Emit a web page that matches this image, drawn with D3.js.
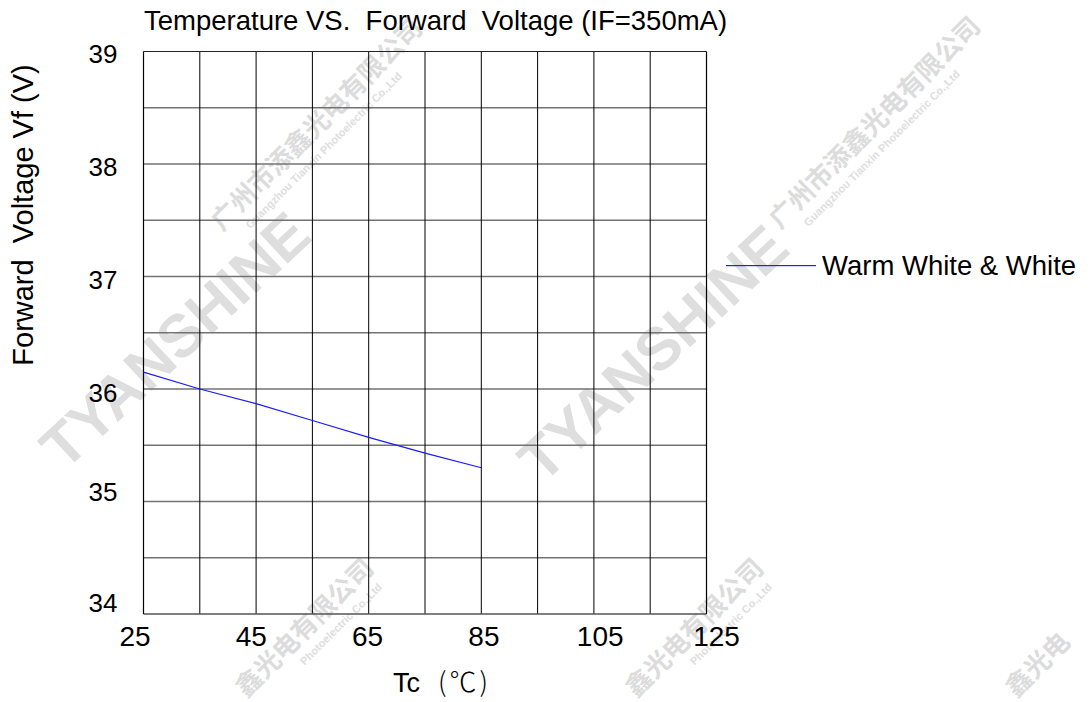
<!DOCTYPE html>
<html>
<head>
<meta charset="utf-8">
<script src="https://cdn.jsdelivr.net/npm/d3@7"></script>
<style>
  body { margin: 0; background: #fff; }
  text { font-family: "Liberation Sans", Arial, sans-serif; }
</style>
</head>
<body>
<div id="chart"></div>
<script>
// Tc (°C) vs forward voltage
const temps = [25, 35, 45, 55, 65, 75, 85];
const vf = [36.15, 36.0, 35.87, 35.72, 35.57, 35.43, 35.3];
const xTicks = [25, 45, 65, 85, 105, 125];
const yTicks = [34, 35, 36, 37, 38, 39];
const seriesName = "Warm White & White";

const width = 1090;
const height = 702;
const margin = { top: 51.5, right: 383.5, bottom: 88, left: 143.5 };

const svg = d3
  .select("#chart")
  .append("svg")
  .attr("width", width)
  .attr("height", height);

const x = d3.scaleLinear().domain([25, 125]).range([margin.left, width - margin.right]);
const y = d3.scaleLinear().domain([34, 39]).range([height - margin.bottom, margin.top]);

// tick labels in the original sit a little off the grid lines
const xLab = d3.scaleLinear().domain([25, 125]).range([x(25) - 8.5, x(125) + 10]);
const yLab = d3.scaleLinear().domain([34, 35, 36, 39]).range([y(34) - 11, y(35) - 10, y(36) + 3.5, y(39) + 2.5]);

// watermarks (faint, behind the chart)
const cn = "广州市添鑫光电有限公司";
const en = "Guangzhou Tianxin Photoelectric Co.,Ltd";
const wm = svg.append("g").attr("class", "watermark");
[[175, 340], [653, 353]].forEach(([cx, cy]) => {
  wm.append("text")
    .attr("transform", `translate(${cx},${cy}) rotate(-43)`)
    .attr("text-anchor", "middle")
    .attr("dy", "0.35em")
    .style("font-size", "60px")
    .style("font-weight", "bold")
    .attr("fill", "#dedede")
    .text("TYANSHINE");
});
// [x, y, first char shown, english offset or null]
[
  [222, 232, 0, 22],
  [780, 230, 0, 22],
  [246.6, 698.4, 4, 64],
  [636.6, 698.4, 4, 64],
  [1016.6, 698.4, 4, null],
].forEach(([sx, sy, from, ex]) => {
  const g = wm.append("g").attr("transform", `translate(${sx},${sy}) rotate(-45)`);
  const chars = from === 4 && sx > 1000 ? cn.slice(4, 7) : cn.slice(from);
  g.append("text")
    .style("font-family", "'Noto Sans CJK SC', sans-serif")
    .style("font-size", "26px")
    .style("font-weight", "bold")
    .attr("fill", "#dcdcdc")
    .text(chars);
  if (ex !== null) {
    g.append("text")
      .attr("x", ex)
      .attr("y", 18)
      .style("font-size", "11px")
      .style("font-weight", "bold")
      .attr("fill", "#dedede")
      .text(from ? en.slice(18) : en);
  }
});

// grid: vertical every 10 °C, horizontal every 0.5 V
const grid = svg.append("g");
grid
  .selectAll("line.h")
  .data(d3.range(34.5, 39, 0.5))
  .join("line")
  .attr("class", "h")
  .attr("x1", x(25))
  .attr("x2", x(125))
  .attr("y1", (d) => y(d))
  .attr("y2", (d) => y(d))
  .attr("stroke", "#737373")
  .attr("stroke-width", 1.3);
grid
  .selectAll("line.v")
  .data(d3.range(35, 125, 10))
  .join("line")
  .attr("class", "v")
  .attr("x1", (d) => x(d))
  .attr("x2", (d) => x(d))
  .attr("y1", y(34))
  .attr("y2", y(39))
  .attr("stroke", "#000")
  .attr("stroke-width", 1);

// frame
grid.append("line").attr("x1", x(25)).attr("x2", x(125)).attr("y1", y(39)).attr("y2", y(39)).attr("stroke", "#222").attr("stroke-width", 1.2);
grid.append("line").attr("x1", x(25)).attr("x2", x(125)).attr("y1", y(34)).attr("y2", y(34)).attr("stroke", "#555").attr("stroke-width", 1.3);
grid.append("line").attr("x1", x(25)).attr("x2", x(25)).attr("y1", y(34)).attr("y2", y(39)).attr("stroke", "#000").attr("stroke-width", 1.2);
grid.append("line").attr("x1", x(125)).attr("x2", x(125)).attr("y1", y(34)).attr("y2", y(39)).attr("stroke", "#000").attr("stroke-width", 1.2);

// curve
const line = d3.line().x((d, i) => x(temps[i])).y((d) => y(d));
svg
  .append("path")
  .datum(vf)
  .attr("d", line)
  .attr("fill", "none")
  .attr("stroke", "#1a1aff")
  .attr("stroke-width", 1.1);

// tick labels
svg
  .selectAll("text.xt")
  .data(xTicks)
  .join("text")
  .attr("class", "xt")
  .attr("x", (d) => xLab(d))
  .attr("y", y(34) + 32)
  .attr("text-anchor", "middle")
  .style("font-size", "28px")
  .text((d) => d);
svg
  .selectAll("text.yt")
  .data(yTicks)
  .join("text")
  .attr("class", "yt")
  .attr("x", x(25) - 26)
  .attr("y", (d) => yLab(d))
  .attr("dy", "0.35em")
  .attr("text-anchor", "end")
  .style("font-size", "26px")
  .text((d) => d);

// titles
svg
  .append("text")
  .attr("x", 144)
  .attr("y", 29.5)
  .style("font-size", "27.5px")
  .style("white-space", "pre")
  .text("Temperature VS.  Forward  Voltage (IF=350mA)");

const xt = svg
  .append("text")
  .attr("y", 691.5)
  .style("font-size", "27px");
xt.append("tspan").attr("x", 393).text("Tc");
xt.append("tspan")
  .attr("x", 438)
  .style("font-family", "'Noto Sans CJK SC', serif")
  .style("font-weight", "300")
  .style("font-size", "27px")
  .style("letter-spacing", "3px")
  .text("(℃)");

svg
  .append("text")
  .attr("transform", "translate(33,215) rotate(-90)")
  .attr("text-anchor", "middle")
  .style("font-size", "29px")
  .style("white-space", "pre")
  .text("Forward  Voltage Vf (V)");

// legend
const lg = svg.append("g").attr("transform", "translate(726,265)");
lg.append("rect").attr("x", 0).attr("y", 0).attr("width", 90).attr("height", 1.2).attr("fill", "#2020ff");
lg.append("text").attr("x", 96).attr("y", 10).style("font-size", "27.5px").text(seriesName);
</script>
</body>
</html>
